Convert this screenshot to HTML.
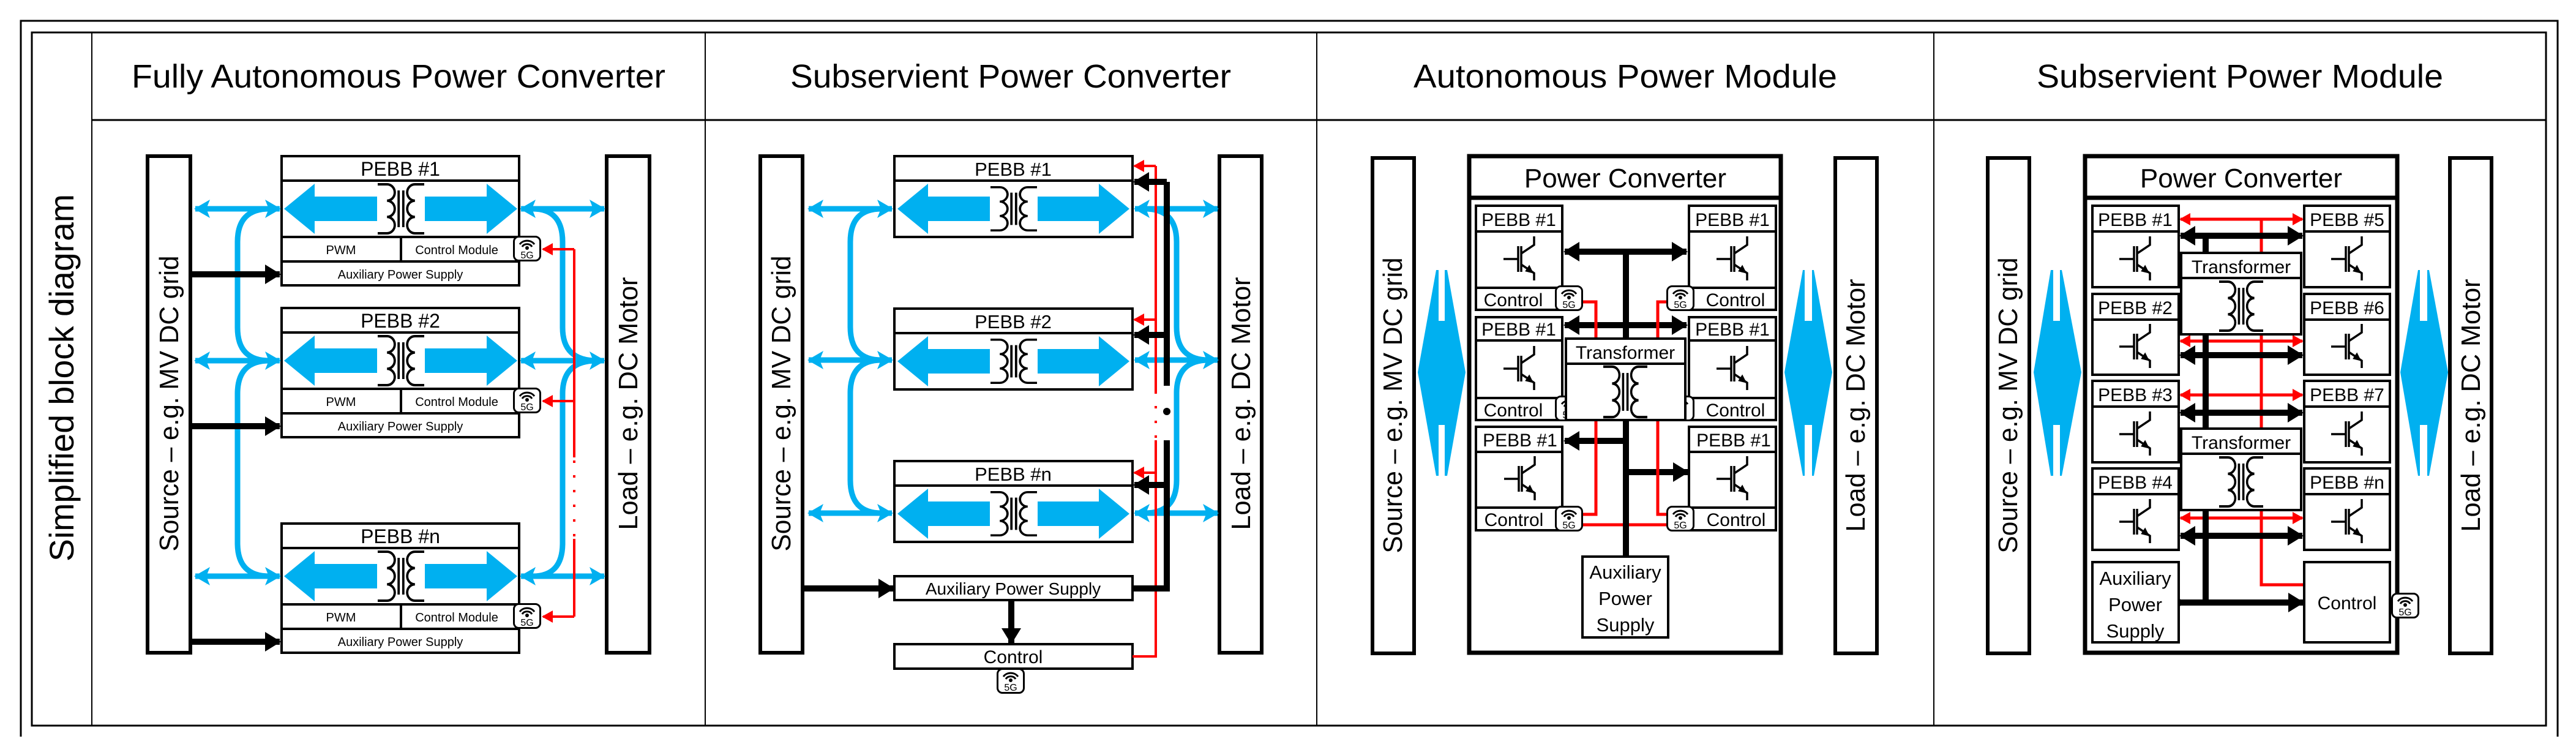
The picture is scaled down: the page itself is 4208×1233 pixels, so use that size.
<!DOCTYPE html>
<html><head><meta charset="utf-8"><style>html,body{margin:0;padding:0;background:#fff}svg{display:block}text{font-family:"Liberation Sans",sans-serif;fill:#000}</style></head><body>
<svg width="4208" height="1233" viewBox="0 0 4208 1233" xmlns="http://www.w3.org/2000/svg">
<defs>
<marker id="mb" markerUnits="userSpaceOnUse" markerWidth="26" markerHeight="30" refX="24" refY="15" orient="auto-start-reverse"><path d="M0,0 L26,15 L0,30 L6,15 z" fill="#00B0F0"/></marker>
<marker id="mk" markerUnits="userSpaceOnUse" markerWidth="26" markerHeight="32" refX="24" refY="16" orient="auto-start-reverse"><path d="M0,0 L26,16 L0,32 z" fill="#000"/></marker>
<marker id="mr" markerUnits="userSpaceOnUse" markerWidth="18" markerHeight="20" refX="16" refY="10" orient="auto-start-reverse"><path d="M0,0 L18,10 L0,20 z" fill="#f00"/></marker>
<g id="tr" fill="none" stroke="#000" stroke-width="4">
<path d="M-40,-40 H-24 A13.3,13.3 0 0 1 -24,-13.3 A13.3,13.3 0 0 1 -24,13.3 A13.3,13.3 0 0 1 -24,40 H-40"/>
<path d="M40,-40 H24 A13.3,13.3 0 0 0 24,-13.3 A13.3,13.3 0 0 0 24,13.3 A13.3,13.3 0 0 0 24,40 H40"/>
<line x1="-4" y1="-30" x2="-4" y2="30"/><line x1="4" y1="-30" x2="4" y2="30"/>
</g>
<g id="ig" fill="none" stroke="#000" stroke-width="3.5">
<path d="M-30,-3 H-6"/><path d="M-6,-24 V18"/><path d="M-1,-24 V18"/>
<path d="M-1,-12 L20,-26 V-40"/><path d="M-1,6 L20,20 V32"/>
<path d="M8,16 L16,18 L12,10 z" fill="#000"/>
</g>
<g id="g5">
<rect x="1.5" y="1.5" width="43" height="39" rx="8" fill="#fff" stroke="#000" stroke-width="3"/>
<path d="M11,14 A14,12 0 0 1 35,14 M15,18 A9,8 0 0 1 31,18" fill="none" stroke="#000" stroke-width="3"/>
<circle cx="23" cy="20" r="3" fill="#000"/>
<text x="23" y="37" font-size="16" text-anchor="middle">5G</text>
</g>
</defs>

<path d="M34,1203 V34 H4178 V1203" fill="none" stroke="#000" stroke-width="3"/>
<rect x="52" y="53" width="4107" height="1132" fill="none" stroke="#000" stroke-width="3"/>
<line x1="150" y1="196" x2="4159" y2="196" stroke="#000" stroke-width="3"/>
<g stroke="#000" stroke-width="2"><line x1="150" y1="53" x2="150" y2="1185"/><line x1="1152" y1="53" x2="1152" y2="1185"/><line x1="2151" y1="53" x2="2151" y2="1185"/><line x1="3159" y1="53" x2="3159" y2="1185"/></g>
<g font-size="54" text-anchor="middle">
<text x="651" y="143" textLength="872" lengthAdjust="spacingAndGlyphs">Fully Autonomous Power Converter</text>
<text x="1651" y="143" textLength="720" lengthAdjust="spacingAndGlyphs">Subservient Power Converter</text>
<text x="2655" y="143" textLength="692" lengthAdjust="spacingAndGlyphs">Autonomous Power Module</text>
<text x="3659" y="143" textLength="664" lengthAdjust="spacingAndGlyphs">Subservient Power Module</text>
</g>
<text x="0" y="0" font-size="56" text-anchor="middle" transform="translate(120,617) rotate(-90)" textLength="600" lengthAdjust="spacingAndGlyphs">Simplified block diagram</text>

<g fill="#fff" stroke="#000" stroke-width="6"><rect x="241" y="255" width="70" height="811"/><rect x="991" y="255" width="70" height="811"/></g>
<text font-size="44" text-anchor="middle" transform="translate(291,659) rotate(-90)" textLength="483" lengthAdjust="spacingAndGlyphs">Source – e.g. MV DC grid</text>
<text font-size="44" text-anchor="middle" transform="translate(1041,659) rotate(-90)" textLength="413" lengthAdjust="spacingAndGlyphs">Load – e.g. DC Motor</text>

<g>
<rect x="460" y="255" width="388" height="211" fill="#fff" stroke="#000" stroke-width="4"/>
<g stroke="#000" stroke-width="4"><line x1="460" y1="295" x2="848" y2="295"/><line x1="460" y1="387" x2="848" y2="387"/><line x1="460" y1="427" x2="848" y2="427"/><line x1="655" y1="387" x2="655" y2="427"/></g>
<polygon points="464,341 514,300 514,321 795,321 795,300 845,341 795,382 795,361 514,361 514,382" fill="#00B0F0"/>
<rect x="616" y="302" width="78" height="80" fill="#fff"/>
<use href="#tr" transform="translate(655,341) scale(0.95,1)"/>
<text x="654" y="287" font-size="32" text-anchor="middle">PEBB #1</text>
<text x="557" y="415" font-size="20" text-anchor="middle">PWM</text>
<text x="746" y="415" font-size="20" text-anchor="middle">Control Module</text>
<text x="654" y="455" font-size="20" text-anchor="middle">Auxiliary Power Supply</text>
<use href="#g5" transform="translate(838,385)"/>
</g>
<g transform="translate(0,248)">
<rect x="460" y="255" width="388" height="211" fill="#fff" stroke="#000" stroke-width="4"/>
<g stroke="#000" stroke-width="4"><line x1="460" y1="295" x2="848" y2="295"/><line x1="460" y1="387" x2="848" y2="387"/><line x1="460" y1="427" x2="848" y2="427"/><line x1="655" y1="387" x2="655" y2="427"/></g>
<polygon points="464,341 514,300 514,321 795,321 795,300 845,341 795,382 795,361 514,361 514,382" fill="#00B0F0"/>
<rect x="616" y="302" width="78" height="80" fill="#fff"/>
<use href="#tr" transform="translate(655,341) scale(0.95,1)"/>
<text x="654" y="287" font-size="32" text-anchor="middle">PEBB #2</text>
<text x="557" y="415" font-size="20" text-anchor="middle">PWM</text>
<text x="746" y="415" font-size="20" text-anchor="middle">Control Module</text>
<text x="654" y="455" font-size="20" text-anchor="middle">Auxiliary Power Supply</text>
<use href="#g5" transform="translate(838,385)"/>
</g>
<g transform="translate(0,600)">
<rect x="460" y="255" width="388" height="211" fill="#fff" stroke="#000" stroke-width="4"/>
<g stroke="#000" stroke-width="4"><line x1="460" y1="295" x2="848" y2="295"/><line x1="460" y1="387" x2="848" y2="387"/><line x1="460" y1="427" x2="848" y2="427"/><line x1="655" y1="387" x2="655" y2="427"/></g>
<polygon points="464,341 514,300 514,321 795,321 795,300 845,341 795,382 795,361 514,361 514,382" fill="#00B0F0"/>
<rect x="616" y="302" width="78" height="80" fill="#fff"/>
<use href="#tr" transform="translate(655,341) scale(0.95,1)"/>
<text x="654" y="287" font-size="32" text-anchor="middle">PEBB #n</text>
<text x="557" y="415" font-size="20" text-anchor="middle">PWM</text>
<text x="746" y="415" font-size="20" text-anchor="middle">Control Module</text>
<text x="654" y="455" font-size="20" text-anchor="middle">Auxiliary Power Supply</text>
<use href="#g5" transform="translate(838,385)"/>
</g>
<g stroke="#00B0F0" stroke-width="9" fill="none">
<line x1="319" y1="341" x2="457" y2="341" marker-start="url(#mb)" marker-end="url(#mb)"/>
<line x1="319" y1="589" x2="457" y2="589" marker-start="url(#mb)" marker-end="url(#mb)"/>
<line x1="319" y1="941" x2="457" y2="941" marker-start="url(#mb)" marker-end="url(#mb)"/>
<path d="M440,341 Q388,341 388,395 V535 Q388,589 440,589"/>
<path d="M440,589 Q388,589 388,643 V887 Q388,941 440,941"/>
<line x1="851" y1="341" x2="987" y2="341" marker-start="url(#mb)" marker-end="url(#mb)"/>
<line x1="851" y1="589" x2="987" y2="589" marker-start="url(#mb)" marker-end="url(#mb)"/>
<line x1="851" y1="941" x2="987" y2="941" marker-start="url(#mb)" marker-end="url(#mb)"/>
<path d="M870,341 Q919,341 919,395 V535 Q919,589 975,589"/>
<path d="M870,941 Q919,941 919,887 V643 Q919,589 975,589"/>
</g>
<g stroke="#000" stroke-width="10"><line x1="311" y1="448" x2="457" y2="448" marker-end="url(#mk)"/><line x1="311" y1="696" x2="457" y2="696" marker-end="url(#mk)"/><line x1="311" y1="1048" x2="457" y2="1048" marker-end="url(#mk)"/></g>
<g stroke="#f00" stroke-width="4" fill="none">
<path d="M938,407 V747"/><path d="M938,752 V880" stroke-dasharray="4,20"/><path d="M938,880 V1007"/>
<line x1="938" y1="407" x2="887" y2="407" marker-end="url(#mr)"/>
<line x1="938" y1="655" x2="887" y2="655" marker-end="url(#mr)"/>
<line x1="938" y1="1007" x2="887" y2="1007" marker-end="url(#mr)"/>
</g>

<g fill="#fff" stroke="#000" stroke-width="6"><rect x="1242" y="255" width="69" height="811"/><rect x="1992" y="255" width="69" height="811"/></g>
<text font-size="44" text-anchor="middle" transform="translate(1291,659) rotate(-90)" textLength="483" lengthAdjust="spacingAndGlyphs">Source – e.g. MV DC grid</text>
<text font-size="44" text-anchor="middle" transform="translate(2042,659) rotate(-90)" textLength="413" lengthAdjust="spacingAndGlyphs">Load – e.g. DC Motor</text>
<g stroke="#00B0F0" stroke-width="9" fill="none">
<line x1="1321" y1="341" x2="1457" y2="341" marker-start="url(#mb)" marker-end="url(#mb)"/>
<line x1="1321" y1="588" x2="1457" y2="588" marker-start="url(#mb)" marker-end="url(#mb)"/>
<line x1="1321" y1="838" x2="1457" y2="838" marker-start="url(#mb)" marker-end="url(#mb)"/>
<path d="M1440,341 Q1389,341 1389,395 V534 Q1389,588 1440,588"/>
<path d="M1440,588 Q1389,588 1389,642 V784 Q1389,838 1440,838"/>
<line x1="1854" y1="341" x2="1989" y2="341" marker-start="url(#mb)" marker-end="url(#mb)"/>
<line x1="1854" y1="588" x2="1989" y2="588" marker-start="url(#mb)" marker-end="url(#mb)"/>
<line x1="1854" y1="838" x2="1989" y2="838" marker-start="url(#mb)" marker-end="url(#mb)"/>
<path d="M1870,341 Q1922,341 1922,395 V534 Q1922,588 1975,588"/>
<path d="M1870,838 Q1922,838 1922,784 V642 Q1922,588 1975,588"/>
</g>
<g>
<rect x="1461" y="255" width="389" height="132" fill="#fff" stroke="#000" stroke-width="4"/>
<line x1="1461" y1="295" x2="1850" y2="295" stroke="#000" stroke-width="4"/>
<polygon points="1466,341 1516,300 1516,321 1795,321 1795,300 1845,341 1795,382 1795,361 1516,361 1516,382" fill="#00B0F0"/>
<rect x="1617" y="302" width="78" height="80" fill="#fff"/>
<use href="#tr" transform="translate(1656,341) scale(0.95,0.88)"/>
<text x="1655" y="287" font-size="31" text-anchor="middle">PEBB #1</text>
</g>
<g transform="translate(0,249)">
<rect x="1461" y="255" width="389" height="132" fill="#fff" stroke="#000" stroke-width="4"/>
<line x1="1461" y1="295" x2="1850" y2="295" stroke="#000" stroke-width="4"/>
<polygon points="1466,341 1516,300 1516,321 1795,321 1795,300 1845,341 1795,382 1795,361 1516,361 1516,382" fill="#00B0F0"/>
<rect x="1617" y="302" width="78" height="80" fill="#fff"/>
<use href="#tr" transform="translate(1656,341) scale(0.95,0.88)"/>
<text x="1655" y="287" font-size="31" text-anchor="middle">PEBB #2</text>
</g>
<g transform="translate(0,498)">
<rect x="1461" y="255" width="389" height="132" fill="#fff" stroke="#000" stroke-width="4"/>
<line x1="1461" y1="295" x2="1850" y2="295" stroke="#000" stroke-width="4"/>
<polygon points="1466,341 1516,300 1516,321 1795,321 1795,300 1845,341 1795,382 1795,361 1516,361 1516,382" fill="#00B0F0"/>
<rect x="1617" y="302" width="78" height="80" fill="#fff"/>
<use href="#tr" transform="translate(1656,341) scale(0.95,0.88)"/>
<text x="1655" y="287" font-size="31" text-anchor="middle">PEBB #n</text>
</g>
<rect x="1461" y="941" width="389" height="39" fill="#fff" stroke="#000" stroke-width="4"/>
<text x="1655" y="971" font-size="28" text-anchor="middle">Auxiliary Power Supply</text>
<rect x="1461" y="1052" width="389" height="40" fill="#fff" stroke="#000" stroke-width="4"/>
<text x="1655" y="1083" font-size="30" text-anchor="middle">Control</text>
<use href="#g5" transform="translate(1628,1091)"/>
<g stroke="#f00" stroke-width="4" fill="none">
<path d="M1850,1072 H1888 V719"/><path d="M1888,715 V639" stroke-dasharray="4,20"/><path d="M1888,639 V271"/>
<line x1="1888" y1="271" x2="1853" y2="271" marker-end="url(#mr)"/>
<line x1="1888" y1="522" x2="1853" y2="522" marker-end="url(#mr)"/>
<line x1="1888" y1="772" x2="1853" y2="772" marker-end="url(#mr)"/>
</g>
<g stroke="#000" stroke-width="10" fill="none">
<line x1="1311" y1="961" x2="1459" y2="961" marker-end="url(#mk)"/>
<line x1="1652" y1="980" x2="1652" y2="1050" marker-end="url(#mk)"/>
<path d="M1850,961 H1906 V719"/><path d="M1906,630 V297"/>
<line x1="1906" y1="297" x2="1853" y2="297" marker-end="url(#mk)"/>
<line x1="1906" y1="547" x2="1853" y2="547" marker-end="url(#mk)"/>
<line x1="1906" y1="792" x2="1853" y2="792" marker-end="url(#mk)"/>
</g>
<circle cx="1906" cy="672" r="6" fill="#000"/>

<g fill="#fff" stroke="#000" stroke-width="6"><rect x="2242" y="258" width="68" height="809"/><rect x="2998" y="258" width="68" height="809"/></g>
<text font-size="44" text-anchor="middle" transform="translate(2290,662) rotate(-90)" textLength="483" lengthAdjust="spacingAndGlyphs">Source – e.g. MV DC grid</text>
<text font-size="44" text-anchor="middle" transform="translate(3046,662) rotate(-90)" textLength="413" lengthAdjust="spacingAndGlyphs">Load – e.g. DC Motor</text>
<g fill="#00B0F0">
<polygon points="2316,608 2346,441 2350,441 2350,777 2346,777"/><polygon points="2394,608 2364,441 2360,441 2360,777 2364,777"/><rect x="2349" y="524" width="12" height="170"/>
<polygon points="2915,608 2945,441 2948,441 2948,777 2945,777"/><polygon points="2993,608 2963,441 2960,441 2960,777 2963,777"/><rect x="2947" y="524" width="14" height="170"/>
</g>
<rect x="2400" y="255" width="509" height="811" fill="#fff" stroke="#000" stroke-width="7"/>
<line x1="2400" y1="323" x2="2909" y2="323" stroke="#000" stroke-width="7"/>
<text x="2655" y="306" font-size="44" text-anchor="middle">Power Converter</text>
<g stroke="#000" stroke-width="10" fill="none">
<line x1="2656" y1="411" x2="2656" y2="909"/>
<line x1="2556" y1="411" x2="2755" y2="411" marker-start="url(#mk)" marker-end="url(#mk)"/>
<line x1="2556" y1="531" x2="2755" y2="531" marker-start="url(#mk)" marker-end="url(#mk)"/>
<line x1="2660" y1="720" x2="2556" y2="720" marker-end="url(#mk)"/>
<line x1="2652" y1="771" x2="2757" y2="771" marker-end="url(#mk)"/>
</g>
<g fill="#fff" stroke="#000" stroke-width="4">
<rect x="2411" y="336" width="141" height="170"/><rect x="2411" y="518" width="141" height="168"/><rect x="2411" y="697" width="141" height="169"/>
<rect x="2759" y="336" width="142" height="170"/><rect x="2759" y="518" width="142" height="168"/><rect x="2759" y="697" width="142" height="169"/>
</g>
<g stroke="#000" stroke-width="4">
<line x1="2411" y1="378" x2="2552" y2="378"/><line x1="2411" y1="470" x2="2552" y2="470"/>
<line x1="2411" y1="556" x2="2552" y2="556"/><line x1="2411" y1="650" x2="2552" y2="650"/>
<line x1="2411" y1="738" x2="2552" y2="738"/><line x1="2411" y1="829" x2="2552" y2="829"/>
<line x1="2759" y1="378" x2="2901" y2="378"/><line x1="2759" y1="470" x2="2901" y2="470"/>
<line x1="2759" y1="556" x2="2901" y2="556"/><line x1="2759" y1="650" x2="2901" y2="650"/>
<line x1="2759" y1="738" x2="2901" y2="738"/><line x1="2759" y1="829" x2="2901" y2="829"/>
</g>
<g font-size="30" text-anchor="middle">
<text x="2481" y="369">PEBB #1</text><text x="2481" y="548">PEBB #1</text><text x="2483" y="729">PEBB #1</text>
<text x="2830" y="369">PEBB #1</text><text x="2830" y="548">PEBB #1</text><text x="2832" y="729">PEBB #1</text>
<text x="2472" y="500">Control</text><text x="2472" y="680">Control</text><text x="2473" y="859">Control</text>
<text x="2835" y="500">Control</text><text x="2835" y="680">Control</text><text x="2836" y="859">Control</text>
</g>
<use href="#ig" transform="translate(2486,426)"/><use href="#ig" transform="translate(2486,605)"/><use href="#ig" transform="translate(2487,785)"/>
<use href="#ig" transform="translate(2834,426)"/><use href="#ig" transform="translate(2834,605)"/><use href="#ig" transform="translate(2834,785)"/>
<use href="#g5" transform="translate(2540,466)"/><use href="#g5" transform="translate(2722,466)"/>
<use href="#g5" transform="translate(2540,646)"/><use href="#g5" transform="translate(2722,646)"/>
<use href="#g5" transform="translate(2540,826)"/><use href="#g5" transform="translate(2722,826)"/>
<g stroke="#f00" stroke-width="5" fill="none">
<path d="M2586,493 H2607 V840 H2586"/><path d="M2722,493 H2708 V840 H2722"/><path d="M2586,857 H2722"/>
</g>
<line x1="2656" y1="686" x2="2656" y2="909" stroke="#000" stroke-width="10"/>
<rect x="2558" y="553" width="195" height="133" fill="#fff" stroke="#000" stroke-width="4"/>
<line x1="2558" y1="594" x2="2753" y2="594" stroke="#000" stroke-width="4"/>
<text x="2655" y="586" font-size="30" text-anchor="middle">Transformer</text>
<use href="#tr" transform="translate(2655,640) scale(0.9,1.03)"/>
<rect x="2585" y="909" width="140" height="132" fill="#fff" stroke="#000" stroke-width="4"/>
<g font-size="31" text-anchor="middle"><text x="2655" y="945">Auxiliary</text><text x="2655" y="988">Power</text><text x="2655" y="1031">Supply</text></g>

<g fill="#fff" stroke="#000" stroke-width="6"><rect x="3247" y="258" width="68" height="809"/><rect x="4002" y="258" width="68" height="809"/></g>
<text font-size="44" text-anchor="middle" transform="translate(3295,662) rotate(-90)" textLength="483" lengthAdjust="spacingAndGlyphs">Source – e.g. MV DC grid</text>
<text font-size="44" text-anchor="middle" transform="translate(4051,662) rotate(-90)" textLength="413" lengthAdjust="spacingAndGlyphs">Load – e.g. DC Motor</text>
<g fill="#00B0F0">
<polygon points="3322,608 3350,441 3354,441 3354,777 3350,777"/><polygon points="3400,608 3368,441 3365,441 3365,777 3368,777"/><rect x="3353" y="524" width="13" height="170"/>
<polygon points="3921,608 3950,441 3953,441 3953,777 3950,777"/><polygon points="3999,608 3968,441 3965,441 3965,777 3968,777"/><rect x="3952" y="524" width="14" height="170"/>
</g>
<rect x="3406" y="255" width="510" height="811" fill="#fff" stroke="#000" stroke-width="7"/>
<line x1="3406" y1="323" x2="3916" y2="323" stroke="#000" stroke-width="7"/>
<text x="3661" y="306" font-size="44" text-anchor="middle">Power Converter</text>
<g stroke="#f00" stroke-width="5" fill="none">
<path d="M3694,358 V955 H3764"/>
<line x1="3562" y1="358" x2="3761" y2="358" marker-start="url(#mr)" marker-end="url(#mr)"/>
<line x1="3562" y1="557" x2="3761" y2="557" marker-start="url(#mr)" marker-end="url(#mr)"/>
<line x1="3562" y1="645" x2="3761" y2="645" marker-start="url(#mr)" marker-end="url(#mr)"/>
<line x1="3562" y1="846" x2="3761" y2="846" marker-start="url(#mr)" marker-end="url(#mr)"/>
</g>
<g stroke="#000" stroke-width="10" fill="none">
<path d="M3603,385 V984"/>
<line x1="3562" y1="385" x2="3761" y2="385" marker-start="url(#mk)" marker-end="url(#mk)"/>
<line x1="3562" y1="580" x2="3761" y2="580" marker-start="url(#mk)" marker-end="url(#mk)"/>
<line x1="3562" y1="674" x2="3761" y2="674" marker-start="url(#mk)" marker-end="url(#mk)"/>
<line x1="3562" y1="875" x2="3761" y2="875" marker-start="url(#mk)" marker-end="url(#mk)"/>
<line x1="3557" y1="984" x2="3762" y2="984" marker-end="url(#mk)"/>
</g>
<circle cx="3559" cy="984" r="6" fill="#000"/>
<g fill="#fff" stroke="#000" stroke-width="4">
<rect x="3418" y="336" width="141" height="133"/><rect x="3418" y="480" width="141" height="132"/><rect x="3418" y="622" width="141" height="133"/><rect x="3418" y="765" width="141" height="133"/>
<rect x="3764" y="336" width="140" height="133"/><rect x="3764" y="480" width="140" height="132"/><rect x="3764" y="622" width="140" height="133"/><rect x="3764" y="765" width="140" height="133"/>
<rect x="3563" y="413" width="196" height="133"/><rect x="3563" y="700" width="196" height="133"/>
<rect x="3418" y="918" width="141" height="131"/><rect x="3764" y="918" width="140" height="131"/>
</g>
<g stroke="#000" stroke-width="4">
<line x1="3418" y1="378" x2="3559" y2="378"/><line x1="3418" y1="522" x2="3559" y2="522"/><line x1="3418" y1="664" x2="3559" y2="664"/><line x1="3418" y1="807" x2="3559" y2="807"/>
<line x1="3764" y1="378" x2="3904" y2="378"/><line x1="3764" y1="522" x2="3904" y2="522"/><line x1="3764" y1="664" x2="3904" y2="664"/><line x1="3764" y1="807" x2="3904" y2="807"/>
<line x1="3563" y1="454" x2="3759" y2="454"/><line x1="3563" y1="741" x2="3759" y2="741"/>
</g>
<g font-size="30" text-anchor="middle">
<text x="3488" y="369">PEBB #1</text><text x="3488" y="513">PEBB #2</text><text x="3488" y="655">PEBB #3</text><text x="3488" y="798">PEBB #4</text>
<text x="3834" y="369">PEBB #5</text><text x="3834" y="513">PEBB #6</text><text x="3834" y="655">PEBB #7</text><text x="3834" y="798">PEBB #n</text>
<text x="3661" y="446">Transformer</text><text x="3661" y="733">Transformer</text>
<text x="3834" y="995">Control</text>
</g>
<g font-size="31" text-anchor="middle"><text x="3488" y="955">Auxiliary</text><text x="3488" y="998">Power</text><text x="3488" y="1041">Supply</text></g>
<use href="#ig" transform="translate(3492,426)"/><use href="#ig" transform="translate(3492,569)"/><use href="#ig" transform="translate(3492,712)"/><use href="#ig" transform="translate(3492,855)"/>
<use href="#ig" transform="translate(3838,426)"/><use href="#ig" transform="translate(3838,569)"/><use href="#ig" transform="translate(3838,712)"/><use href="#ig" transform="translate(3838,855)"/>
<use href="#tr" transform="translate(3661,500) scale(0.9,1)"/><use href="#tr" transform="translate(3661,787) scale(0.9,1)"/>
<use href="#g5" transform="translate(3906,968)"/>
</svg>
</body></html>
